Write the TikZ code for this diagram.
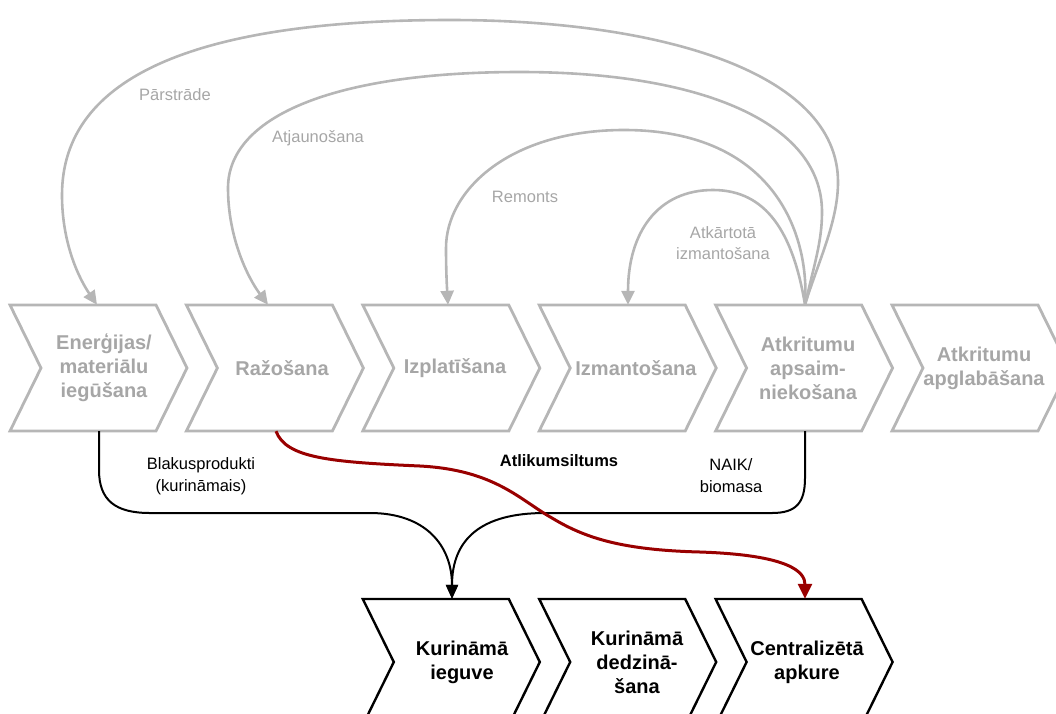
\documentclass[tikz,border=0pt]{standalone}
\usepackage{fontspec}
\setmainfont{Liberation Sans}
\usetikzlibrary{arrows.meta}
\definecolor{loopgray}{RGB}{182,182,182}
\definecolor{stagegray}{RGB}{166,166,166}
\definecolor{heatred}{RGB}{153,0,0}
\def\chevron[#1](#2){\draw[#1] (#2) -- ++(146,0) -- ++(31,63) -- ++(-31,63) -- ++(-146,0) -- ++(31,-63) -- cycle;}
\tikzset{
  stage/.style={align=center, minimum width=146, minimum height=126, inner sep=0pt,
    font=\bfseries\fontsize{20}{24}\selectfont},
  toprow/.style={stage, text=stagegray},
  lowrow/.style={stage, text=black},
  looplabel/.style={align=center, text=stagegray, font=\fontsize{16.5}{21}\selectfont},
  flowlabel/.style={align=center, text=black, font=\fontsize{16.5}{22}\selectfont},
  loop/.style={draw=loopgray, line width=2.6pt, -{Triangle[length=14pt,width=13pt]}},
  fuel/.style={draw=black, line width=2pt, -{Triangle[length=14pt,width=12pt]}},
  heat/.style={draw=heatred, line width=3pt, -{Triangle[length=15pt,width=14pt]}}
}

\begin{document}
\begin{tikzpicture}[x=1pt, y=-1pt]
			\useasboundingbox (0,0) rectangle (1056,713);
			\clip (0,0) rectangle (1056,713);
			%%%%% START %%%%%
			
			% life cycle stages
			\chevron[line width=2.8pt, color=loopgray](10, 305);
			\chevron[line width=2.8pt, color=loopgray](186.4, 305);
			\chevron[line width=2.8pt, color=loopgray](362.8, 305);
			\chevron[line width=2.8pt, color=loopgray](539.2, 305);
			\chevron[line width=2.8pt, color=loopgray](715.6, 305);
			\chevron[line width=2.8pt, color=loopgray](892, 305);
			
			\node[toprow] (ieguve) at (104, 368) {Enerģijas/\\materiālu\\iegūšana};
			\node[toprow] (razosana) at (282, 368) {Ražošana};
			\node[toprow] (izplat) at (455, 368) {Izplatīšana};
			\node[toprow] (izmant) at (636, 368) {Izmantošana};
			\node[toprow] (apsaim) at (808, 368) {Atkritumu\\apsaim-\\niekošana};
			\node[toprow] (apglab) at (984, 368) {Atkritumu\\apglabāšana};
			
			% energy chain
			\chevron[line width=2.4pt, color=black](362.8, 599);
			\chevron[line width=2.4pt, color=black](539.2, 599);
			\chevron[line width=2.4pt, color=black](715.6, 599);
			
			\node[lowrow] (kurieg) at (462, 662) {Kurināmā\\ieguve};
			\node[lowrow] (kurdedz) at (637, 662) {Kurināmā\\dedzinā-\\šana};
			\node[lowrow] (apkure) at (807, 662) {Centralizētā\\apkure};
			
			% loops back from waste management
			\coordinate (src) at ([xshift=-3]apsaim.north);
			
			\draw[loop] (src) .. controls (818,262) and (838,222) .. (838,182)
				.. controls (838,72) and (660,20) .. (450,20)
				.. controls (200,20) and (62,75) .. (62,195)
				.. controls (62,245) and (80,280) .. ([xshift=-7]ieguve.north);
			\draw[loop] (src) .. controls (814,265) and (822,242) .. (822,212)
				.. controls (822,122) and (700,72) .. (520,72)
				.. controls (330,72) and (228,118) .. (228,188)
				.. controls (228,238) and (248,278) .. ([xshift=-14]razosana.north);
			\draw[loop] (src) .. controls (810,232) and (772,130) .. (624,130)
				.. controls (510,130) and (446,190) .. (446,248)
				.. controls (446,272) and (447,288) .. ([xshift=-7]izplat.north);
			\draw[loop] (src) .. controls (793,232) and (766,190) .. (713,190)
				.. controls (658,190) and (628,232) .. ([xshift=-8]izmant.north);
			
			\node[looplabel] (lblpar) at (175, 95) {Pārstrāde};
			\node[looplabel] (lblatj) at (318, 138) {Atjaunošana};
			\node[looplabel] (lblrem) at (525, 197) {Remonts};
			\node[looplabel] (lblatk) at (723, 243) {Atkārtotā\\izmantošana};
			
			% fuel flows
			\draw[fuel] ([xshift=-5]ieguve.south) -- (99,470)
				.. controls (99,500) and (115,513) .. (150,513) -- (370,513)
				.. controls (425,513) and (452,545) .. ([xshift=-10]kurieg.north);
			\draw[fuel] ([xshift=-3]apsaim.south) -- (805,478)
				.. controls (805,503) and (796,513) .. (772,513) -- (545,513)
				.. controls (480,513) and (452,540) .. ([xshift=-10]kurieg.north);
			
			\node[flowlabel] (lblblak) at (201, 476) {Blakusprodukti\\(kurināmais)};
			\node[flowlabel] (lblnaik) at (731, 476) {NAIK/\\biomasa};
			
			% residual heat
			\draw[heat] ([xshift=-6]razosana.south) .. controls (286,458) and (330,462) .. (420,466)
				.. controls (495,470) and (520,500) .. (552,518)
				.. controls (585,538) and (622,550) .. (700,552)
				.. controls (790,555) and (805,572) .. ([xshift=-2]apkure.north);
			\node[flowlabel, font=\bfseries\fontsize{16.5}{22}\selectfont] (lblheat) at (559, 461) {Atlikumsiltums};
			
			%%%%% END %%%%%
\end{tikzpicture}
\end{document}
